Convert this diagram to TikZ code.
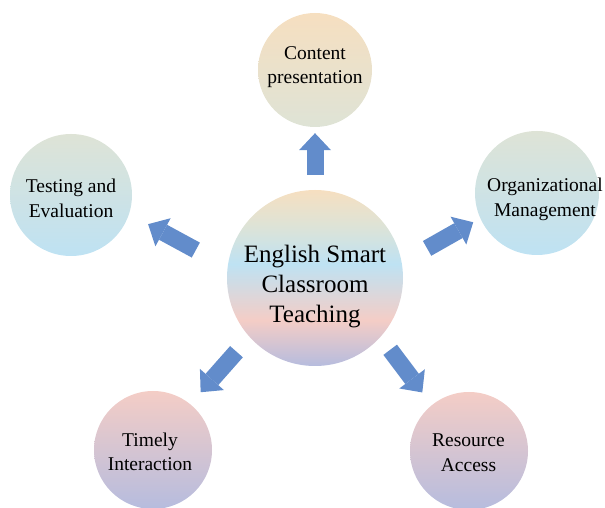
\documentclass[tikz,border=0pt]{standalone}
\usepackage{fontspec}
\setmainfont{Liberation Serif}
\usetikzlibrary{arrows.meta}

\definecolor{peach}{RGB}{246,223,192}
\definecolor{sage}{RGB}{222,227,214}
\definecolor{skyblue}{RGB}{190,226,243}
\definecolor{blush}{RGB}{244,205,198}
\definecolor{lavender}{RGB}{182,188,222}
\definecolor{arrowblue}{RGB}{98,140,203}

% soft pastel fills, bottom colour first
\pgfdeclareverticalshading{coreshade}{100bp}{color(0bp)=(lavender); color(25bp)=(lavender); color(38bp)=(blush); color(54bp)=(skyblue); color(65bp)=(sage); color(75bp)=(peach); color(100bp)=(peach)}
\pgfdeclareverticalshading{topshade}{100bp}{color(0bp)=(sage); color(25bp)=(sage); color(75bp)=(peach); color(100bp)=(peach)}
\pgfdeclareverticalshading{sideshade}{100bp}{color(0bp)=(skyblue); color(25bp)=(skyblue); color(75bp)=(sage); color(100bp)=(sage)}
\pgfdeclareverticalshading{lowshade}{100bp}{color(0bp)=(lavender); color(25bp)=(lavender); color(75bp)=(blush); color(100bp)=(blush)}

\begin{document}
\begin{tikzpicture}[x=1pt,y=1pt,
  bubble/.style={circle, inner sep=0pt, draw=none},
  lbl/.style={align=center, font=\fontsize{19.5}{24.5}\selectfont},
  corelbl/.style={align=center, font=\fontsize{25}{30}\selectfont},
  blockarrow/.style={draw=arrowblue, line width=17pt,
    -{Triangle[width=32pt,length=17pt,line width=0pt]}}]
\useasboundingbox (0,0) rectangle (605,508);

% circles
\node[bubble, minimum size=176pt, shading=coreshade] (core) at (315,230) {};
\node[bubble, minimum size=114pt, shading=topshade] (content) at (315,438) {};
\node[bubble, minimum size=122pt, shading=sideshade] (testing) at (71,313) {};
\node[bubble, minimum size=124pt, shading=sideshade] (org) at (537,315) {};
\node[bubble, minimum size=118pt, shading=lowshade] (timely) at (153,58) {};
\node[bubble, minimum size=118pt, shading=lowshade] (resource) at (469,57) {};

% labels
\node[corelbl] (coretxt) at (315,221) {English Smart\\Classroom\\Teaching};
\node[lbl] (contenttxt) at (315,441) {Content\\presentation};
\node[lbl] (testingtxt) at (71,309.5) {Testing and\\Evaluation};
\node[lbl] (orgtxt) at (545,308.5) {Organizational\\Management};
\node[lbl] (timelytxt) at (150,56) {Timely\\Interaction};
\node[lbl] (resourcetxt) at (468.5,55.5) {Resource\\Access};

% block arrows from the centre outwards
\draw[blockarrow, shorten <=15pt, shorten >=6pt] (core.90) -- (content.-90);
\draw[blockarrow, shorten <=36pt, shorten >=21.5pt] (core.173) -- (testing.-18);
\draw[blockarrow, shorten <=29pt, shorten >=8pt] (core.10) -- (org.204);
\draw[blockarrow, shorten <=19.6pt, shorten >=15.7pt] (core.222.5) -- (timely.51.7);
\draw[blockarrow, shorten <=16pt, shorten >=15.7pt] (core.-42) -- (resource.129.6);
\end{tikzpicture}
\end{document}
